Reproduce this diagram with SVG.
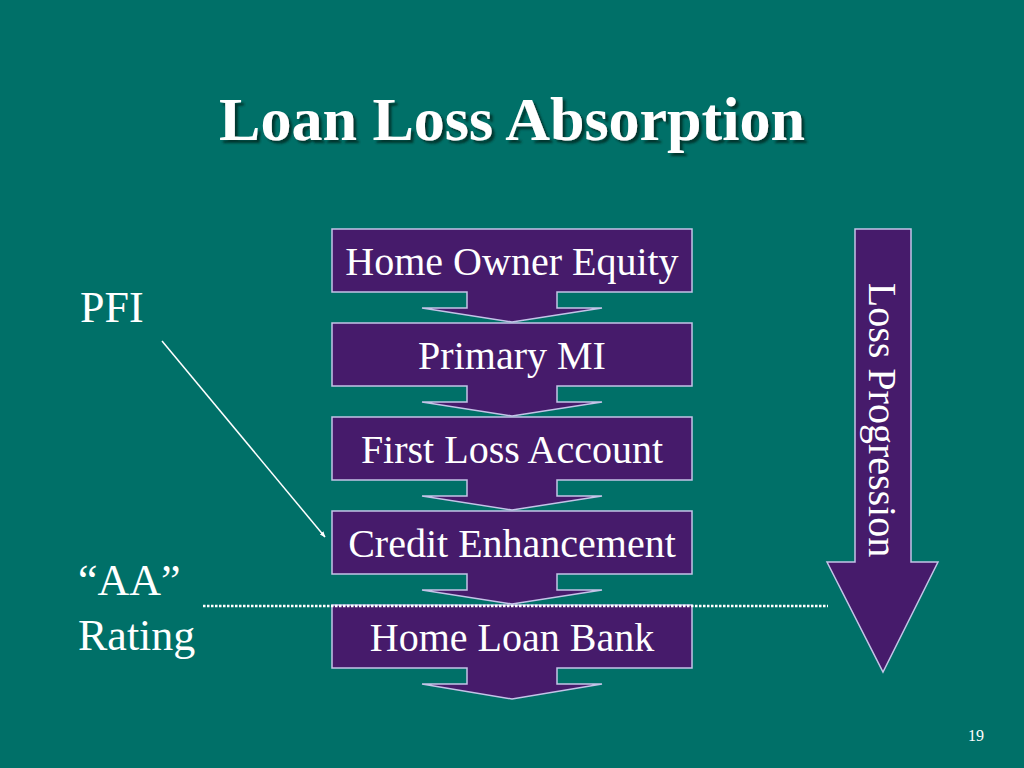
<svg xmlns="http://www.w3.org/2000/svg" width="1024" height="768" viewBox="0 0 1024 768">
<defs>
<style>
text{font-family:"Liberation Serif","Times New Roman",Times,serif;fill:#ffffff}
.box{fill:#461b6b;stroke:#c4c4e8;stroke-width:1.5}
.bt{font-size:40px;text-anchor:middle}
.side{font-size:44px}
</style>
<filter id="sh" x="-5%" y="-20%" width="110%" height="140%">
<feDropShadow dx="3" dy="3" stdDeviation="0.8" flood-color="#06302c" flood-opacity="0.9"/>
</filter>
<marker id="ah" viewBox="0 0 10 10" refX="9" refY="5" markerWidth="6" markerHeight="6" orient="auto" markerUnits="userSpaceOnUse">
<path d="M0,1 L10,5 L0,9 Z" fill="#ffffff"/>
</marker>
</defs>
<rect width="1024" height="768" fill="#007068"/>
<g id="title">
<text x="512" y="140" text-anchor="middle" font-family="Liberation Serif, serif" font-size="62" font-weight="bold" filter="url(#sh)">Loan Loss Absorption</text>
</g>
<g id="node-home-owner-equity">
<path class="box" d="M332,229 H692 V292 H557 V308 H602 L512,322 L422,308 H467 V292 H332 Z"/>
<text class="bt" font-family="Liberation Serif, serif" x="512" y="275">Home Owner Equity</text>
</g>
<g id="node-primary-mi">
<path class="box" d="M332,323 H692 V386 H557 V402 H602 L512,416 L422,402 H467 V386 H332 Z"/>
<text class="bt" font-family="Liberation Serif, serif" x="512" y="369">Primary MI</text>
</g>
<g id="node-first-loss-account">
<path class="box" d="M332,417 H692 V480 H557 V496 H602 L512,510 L422,496 H467 V480 H332 Z"/>
<text class="bt" font-family="Liberation Serif, serif" x="512" y="463">First Loss Account</text>
</g>
<g id="node-credit-enhancement">
<path class="box" d="M332,511 H692 V574 H557 V590 H602 L512,604 L422,590 H467 V574 H332 Z"/>
<text class="bt" font-family="Liberation Serif, serif" x="512" y="557">Credit Enhancement</text>
</g>
<g id="node-home-loan-bank">
<path class="box" d="M332,605 H692 V668 H557 V684 H602 L512,699 L422,684 H467 V668 H332 Z"/>
<text class="bt" font-family="Liberation Serif, serif" x="512" y="651">Home Loan Bank</text>
</g>
<g id="node-loss-progression">
<path class="box" d="M855,229 H911 V562 H938 L883,672 L827,562 H855 Z"/>
<text transform="translate(869,420) rotate(90)" x="0" y="0" text-anchor="middle" font-family="Liberation Serif, serif" font-size="40">Loss Progression</text>
</g>
<g id="label-pfi">
<text class="side" font-family="Liberation Serif, serif" x="80" y="322">PFI</text>
</g>
<g id="label-aa-rating">
<text class="side" font-family="Liberation Serif, serif" x="78" y="595">“AA”</text>
<text class="side" font-family="Liberation Serif, serif" x="78" y="650">Rating</text>
</g>
<text font-family="Liberation Serif, serif" x="968" y="741" font-size="16">19</text>
<g id="connectors">
<line x1="203" y1="606" x2="828" y2="606" stroke="#ffffff" stroke-width="2.5" stroke-dasharray="2.5 1.5"/>
<line x1="162" y1="341" x2="325" y2="537" stroke="#ffffff" stroke-width="1.5" marker-end="url(#ah)"/>
</g>
</svg>
